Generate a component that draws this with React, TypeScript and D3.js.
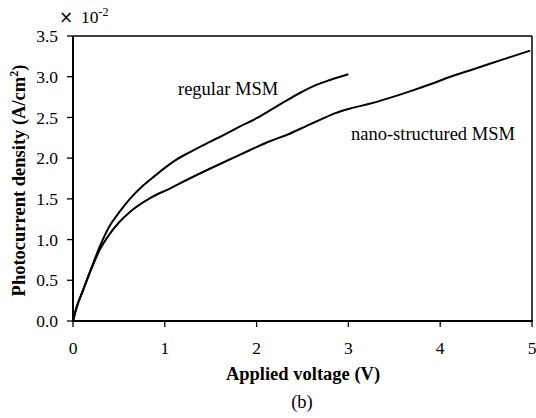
import React from "react";
import * as d3 from "d3";

// Applied voltage (V) and photocurrent density (×10⁻² A/cm²)
const regularVoltage = [0, 0.04, 0.11, 0.2, 0.29, 0.4, 0.5, 0.62, 0.77, 0.9, 1.0, 1.11, 1.3, 1.49, 1.65, 1.82, 2.0, 2.15, 2.3, 2.47, 2.65, 2.8, 3.0];
const regularDensity = [0, 0.17, 0.38, 0.65, 0.91, 1.17, 1.33, 1.5, 1.67, 1.79, 1.88, 1.97, 2.09, 2.2, 2.29, 2.39, 2.49, 2.59, 2.69, 2.8, 2.9, 2.96, 3.03];

const nanoVoltage = [0, 0.04, 0.11, 0.2, 0.29, 0.4, 0.5, 0.62, 0.84, 1.06, 1.27, 1.49, 1.7, 1.93, 2.15, 2.36, 2.55, 2.69, 2.85, 3.02, 3.24, 3.45, 3.67, 3.9, 4.11, 4.33, 4.54, 4.76, 4.98];
const nanoDensity = [0, 0.17, 0.38, 0.64, 0.87, 1.07, 1.21, 1.34, 1.51, 1.63, 1.75, 1.87, 1.98, 2.1, 2.21, 2.3, 2.4, 2.47, 2.55, 2.61, 2.67, 2.74, 2.82, 2.91, 3.0, 3.08, 3.16, 3.24, 3.32];

const xTicks = [0, 1, 2, 3, 4, 5];
const yTicks = [0, 0.5, 1.0, 1.5, 2.0, 2.5, 3.0, 3.5];

const W = 536;
const H = 418;
const left = 73;
const right = 532;
const top = 36;
const bottom = 321;

const serif = {
  fontFamily:
    '"Liberation Serif", "Times New Roman", Times, Tinos, "Noto Serif", "DejaVu Serif", serif',
};

export default function App() {
  const x = d3.scaleLinear().domain([0, 5]).range([left, right]);
  const y = d3.scaleLinear().domain([0, 3.5]).range([bottom, top]);

  const line = d3
    .line<[number, number]>()
    .x((d) => x(d[0]))
    .y((d) => y(d[1]))
    .curve(d3.curveMonotoneX);

  const regular = regularVoltage.map((v, i) => [v, regularDensity[i]] as [number, number]);
  const nano = nanoVoltage.map((v, i) => [v, nanoDensity[i]] as [number, number]);

  return (
    <svg
      width={W}
      height={H}
      style={{ position: "absolute", left: 0, top: 0, background: "#fff", ...serif }}
    >
      {/* frame */}
      <line x1={left} x2={right} y1={top} y2={top} stroke="#000" strokeWidth={1.5} />
      <line x1={right} x2={right} y1={top} y2={bottom} stroke="#000" strokeWidth={1.5} />
      <line x1={left} x2={left} y1={top} y2={bottom + 1} stroke="#000" strokeWidth={2} />
      <line x1={left - 1} x2={right + 1} y1={bottom} y2={bottom} stroke="#000" strokeWidth={2.2} />

      {/* y axis */}
      {yTicks.map((t) => (
        <g key={"y" + t}>
          <line x1={left - 6} x2={left} y1={y(t)} y2={y(t)} stroke="#000" strokeWidth={1.3} />
          <text x={58} y={y(t)} dy="0.35em" textAnchor="end" fontSize={17.5} fill="#000" style={serif}>
            {t.toFixed(1)}
          </text>
        </g>
      ))}

      {/* x axis */}
      {xTicks.map((t) => (
        <g key={"x" + t}>
          <line x1={x(t)} x2={x(t)} y1={bottom} y2={bottom + 6} stroke="#000" strokeWidth={1.3} />
          <text x={x(t)} y={354} textAnchor="middle" fontSize={17.5} fill="#000" style={serif}>
            {t}
          </text>
        </g>
      ))}

      {/* scale factor */}
      <text x={59} y={23} fontSize={17} fill="#000" style={{ fontFamily: '"DejaVu Sans", sans-serif' }}>
        ×
      </text>
      <text x={81} y={23} fontSize={17.5} fill="#000" style={serif}>
        10
        <tspan dy={-7} fontSize={12}>-2</tspan>
      </text>

      {/* curves */}
      <path d={line(regular) ?? ""} fill="none" stroke="#000" strokeWidth={2} />
      <path d={line(nano) ?? ""} fill="none" stroke="#000" strokeWidth={2} />

      {/* curve labels */}
      <text x={178} y={95} fontSize={18.5} fill="#000" style={serif}>regular MSM</text>
      <text x={351} y={140} fontSize={18.5} fill="#000" style={serif}>nano-structured MSM</text>

      {/* axis titles */}
      <text x={303} y={380} textAnchor="middle" fontSize={18.5} fontWeight="bold" fill="#000" style={serif}>
        Applied voltage (V)
      </text>
      <text
        transform={`translate(25, ${(top + bottom) / 2 + 2}) rotate(-90)`}
        textAnchor="middle"
        fontSize={18.5}
        fontWeight="bold"
        fill="#000"
        style={serif}
      >
        Photocurrent density (A/cm
        <tspan dy={-7} fontSize={12}>2</tspan>
        <tspan dy={7}>)</tspan>
      </text>
      <text x={302} y={408} textAnchor="middle" fontSize={18.5} fill="#000" style={serif}>(b)</text>
    </svg>
  );
}
